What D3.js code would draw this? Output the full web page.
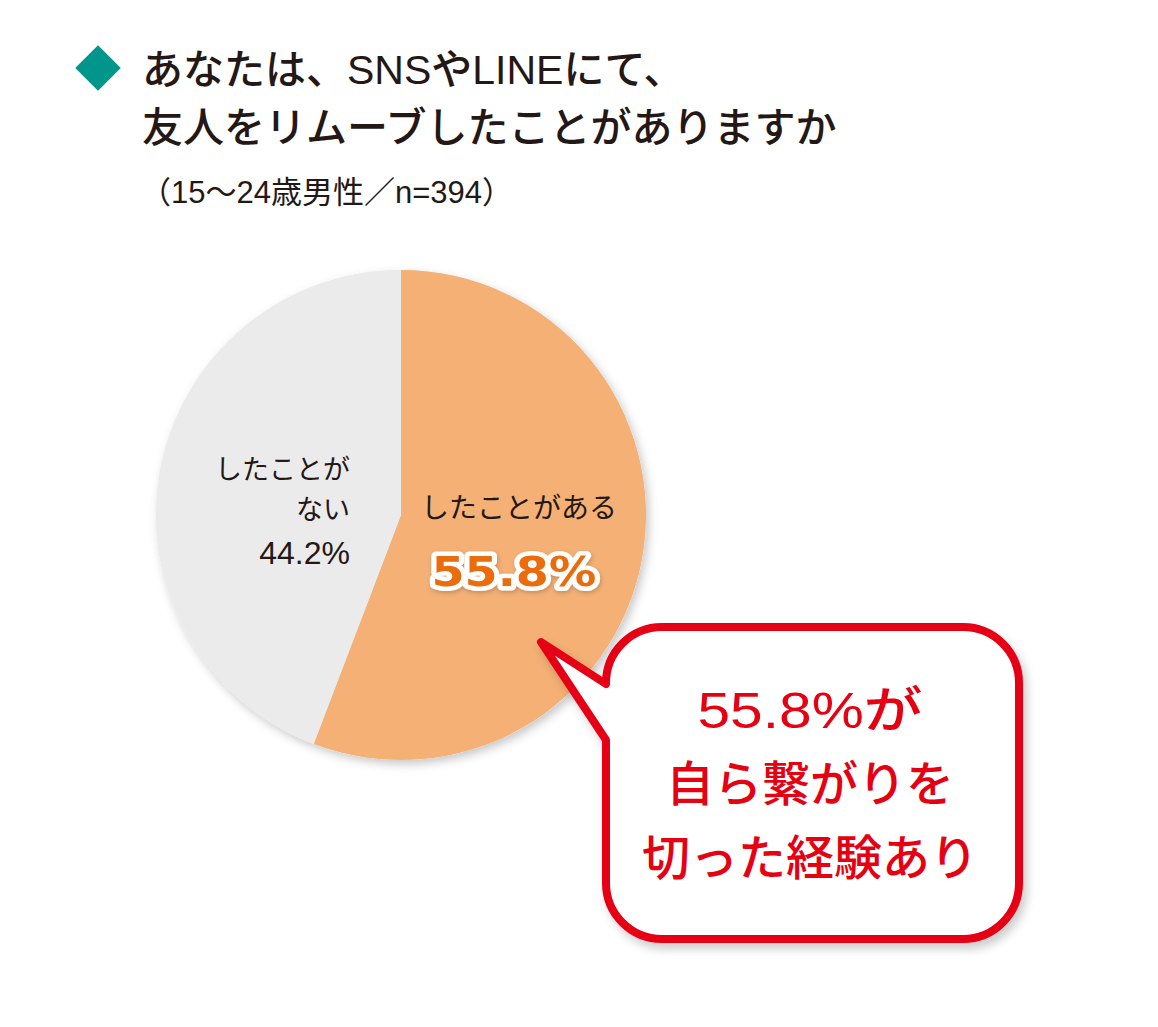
<!DOCTYPE html>
<html><head><meta charset="utf-8">
<script src="https://cdn.jsdelivr.net/npm/d3@7"></script>
<style>
html,body{margin:0;padding:0;background:#fff;}
text{font-family:"Liberation Sans","Noto Sans CJK JP",sans-serif;}
</style></head>
<body>
<script>
const titleLines = ["あなたは、SNSやLINEにて、", "友人をリムーブしたことがありますか"];
const subtitle = "（15〜24歳男性／n=394）";
const categories = ["したことがある", "したことがない"];
const values = [55.8, 44.2];
const sliceColors = ["#f4b075", "#ebebeb"];
const calloutLines = ["55.8%が", "自ら繋がりを", "切った経験あり"];

const W = 1158, H = 1027;
const svg = d3.select("body").append("svg").attr("width", W).attr("height", H);
const defs = svg.append("defs");
const f1 = defs.append("filter").attr("id","pieShadow").attr("x","-20%").attr("y","-20%").attr("width","140%").attr("height","140%");
f1.append("feDropShadow").attr("dx",3).attr("dy",4).attr("stdDeviation",5).attr("flood-color","#000").attr("flood-opacity",0.22);
const f2 = defs.append("filter").attr("id","boxShadow").attr("x","-20%").attr("y","-20%").attr("width","140%").attr("height","140%");
f2.append("feDropShadow").attr("dx",4).attr("dy",6).attr("stdDeviation",5).attr("flood-color","#000").attr("flood-opacity",0.2);
const f3 = defs.append("filter").attr("id","txtShadow").attr("x","-20%").attr("y","-40%").attr("width","140%").attr("height","180%");
f3.append("feDropShadow").attr("dx",1).attr("dy",2).attr("stdDeviation",2).attr("flood-color","#000").attr("flood-opacity",0.2);

// Title
svg.append("path")
  .attr("d", d3.symbol().type(d3.symbolSquare).size(2*23*23*0.98)())
  .attr("transform","translate(98,68) rotate(45)")
  .attr("fill","#00968b");
svg.selectAll("text.title").data(titleLines).join("text")
  .attr("class","title")
  .attr("x",142).attr("y",(d,i)=>70+i*58)
  .attr("dominant-baseline","central")
  .attr("font-size",41).attr("font-weight",500).attr("fill","#231815")
  .text(d=>d);
svg.append("text").attr("x",140).attr("y",192).attr("dominant-baseline","central")
  .attr("font-size",31).attr("fill","#231815").text(subtitle);

// Pie
const cx = 401, cy = 515, R = 245;
const pie = d3.pie().sort(null).value(d=>d.v).startAngle(0).endAngle(2*Math.PI);
const arcs = pie(categories.map((c,i)=>({c, v: values[i]})));
const arc = d3.arc().innerRadius(0).outerRadius(R);
const g = svg.append("g").attr("transform",`translate(${cx},${cy})`);
g.append("circle").attr("r",R).attr("fill","#ebebeb").attr("filter","url(#pieShadow)");
g.selectAll("path").data(arcs).join("path")
  .attr("d",arc).attr("fill",(d,i)=>sliceColors[i]);

// Labels
const fmt = v => v.toFixed(1) + "%";
g.append("text").attr("x",118).attr("y",-7).attr("text-anchor","middle").attr("dominant-baseline","central")
  .attr("font-size",28).attr("fill","#231815").text(categories[0]);
g.append("text").attr("x",113).attr("y",57).attr("text-anchor","middle").attr("dominant-baseline","central")
  .attr("font-size",41).attr("font-weight","bold").attr("fill","#ea6c0b")
  .style("font-family","'DejaVu Sans',sans-serif")
  .attr("stroke","#fff").attr("stroke-width",9).attr("stroke-linejoin","round").attr("paint-order","stroke")
  .attr("textLength",165).attr("lengthAdjust","spacingAndGlyphs")
  .attr("filter","url(#txtShadow)")
  .text(fmt(values[0]));
g.append("text").attr("x",-51).attr("y",-45).attr("text-anchor","end").attr("dominant-baseline","central")
  .attr("font-size",27).attr("fill","#231815").text(categories[1].slice(0,5));
g.append("text").attr("x",-51).attr("y",-5).attr("text-anchor","end").attr("dominant-baseline","central")
  .attr("font-size",27).attr("fill","#231815").text(categories[1].slice(5));
g.append("text").attr("x",-51).attr("y",38).attr("text-anchor","end").attr("dominant-baseline","central")
  .attr("font-size",32).attr("fill","#231815").text(fmt(values[1]));

// Callout balloon
const L = 606, Rt = 1019, T = 627, B = 939, r = 56;
const p = d3.path();
p.moveTo(L, 740);
p.lineTo(541, 642);
p.lineTo(L, 684);
p.arcTo(L, T, L + r, T, r);
p.lineTo(Rt - r, T);
p.arcTo(Rt, T, Rt, T + r, r);
p.lineTo(Rt, B - r);
p.arcTo(Rt, B, Rt - r, B, r);
p.lineTo(L + r, B);
p.arcTo(L, B, L, B - r, r);
p.closePath();
svg.append("path").attr("d",p.toString()).attr("fill","#fff")
  .attr("stroke","#e50012").attr("stroke-width",8).attr("stroke-linejoin","round")
  .attr("filter","url(#boxShadow)");
svg.selectAll("text.callout").data(calloutLines).join("text")
  .attr("class","callout")
  .attr("x",810).attr("y",(d,i)=>[711,784,858][i])
  .attr("text-anchor","middle").attr("dominant-baseline","central")
  .attr("font-size",(d,i)=> i===0 ? 50 : 48).attr("font-weight",500).attr("fill","#e50012")
  .each(function(d,i){ if(i===0) d3.select(this).attr("textLength",225).attr("lengthAdjust","spacingAndGlyphs"); })
  .text(d=>d);
</script>
</body></html>
